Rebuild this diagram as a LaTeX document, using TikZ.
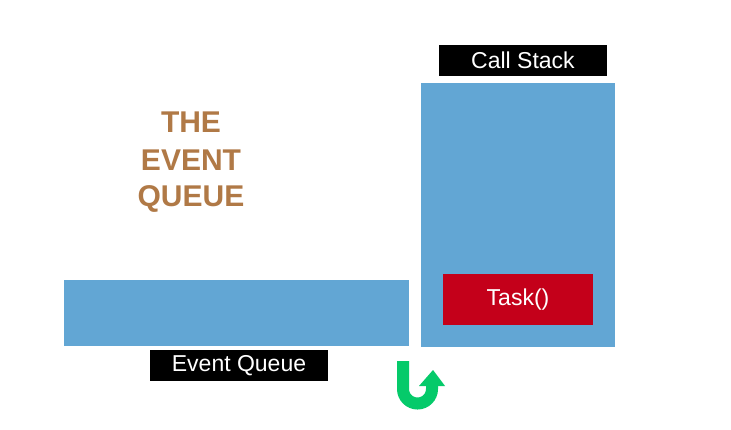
\documentclass[tikz,border=0pt]{standalone}
\usepackage{fontspec}
\setmainfont{Liberation Sans}
\definecolor{qblue}{HTML}{62A6D4}
\definecolor{tred}{HTML}{C4001A}
\definecolor{tbrown}{HTML}{B07946}
\definecolor{agreen}{HTML}{05CA6A}
\begin{document}
\begin{tikzpicture}[x=1pt,y=-1pt,
  bluebox/.style={fill=qblue,draw=none},
  labelbox/.style={fill=black,text=white,font=\fontsize{23}{26}\selectfont,inner sep=0pt},
  title/.style={text=tbrown,font=\fontsize{30}{36}\bfseries\selectfont,anchor=base,inner sep=0pt}]
\useasboundingbox (0,0) rectangle (731,430);
\fill[white] (0,0) rectangle (731,430);
% boxes
\path[bluebox] (64,280) rectangle (409,346);
\path[bluebox] (421,83) rectangle (615,347);
\node[fill=tred,text=white,font=\fontsize{23}{26}\selectfont,minimum width=150pt,minimum height=51pt,inner sep=0pt] (task) at (518,299.5) {Task()};
% labels
\node[labelbox,minimum width=168pt,minimum height=31pt] (cs) at (523,60.5) {Call Stack};
\node[labelbox,minimum width=178pt,minimum height=31pt] (eq) at (239,365.5) {Event Queue};
% title
\node[title] (t1) at (191,133) {THE};
\node[title] (t2) at (191,171) {EVENT};
\node[title] (t3) at (191,207) {QUEUE};
% green U-turn arrow
\draw[agreen,line width=12pt] (403,361) -- (403,389) arc[start angle=180,end angle=0,radius=14.5] -- (432,384);
\fill[agreen] (419,386) -- (433,370) -- (445,386) -- cycle;
\end{tikzpicture}
\end{document}
